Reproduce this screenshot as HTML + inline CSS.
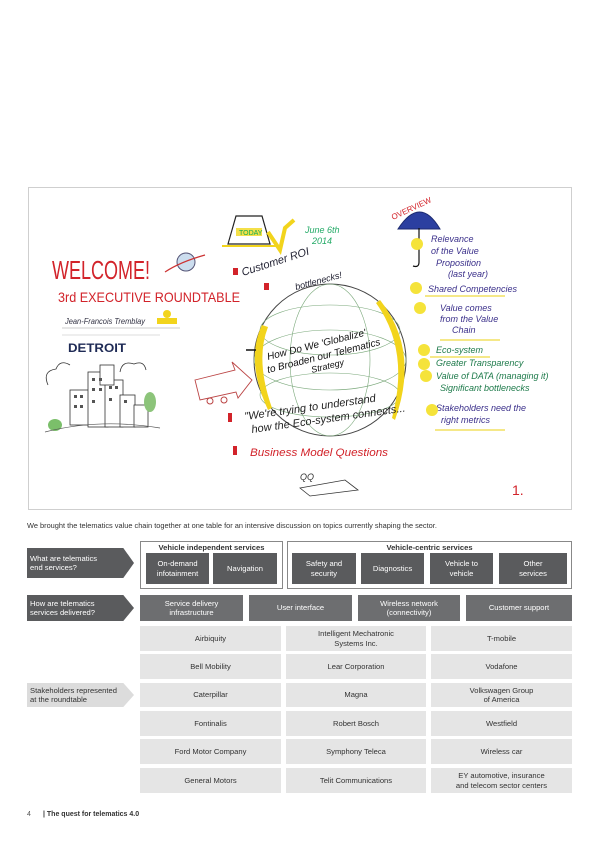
<!DOCTYPE html>
<html><head><meta charset="utf-8"><style>
*{margin:0;padding:0;box-sizing:border-box}
body{width:600px;height:848px;background:#fff;position:relative;font-family:"Liberation Sans",sans-serif;overflow:hidden}
.a{position:absolute}
.c{position:absolute;display:flex;align-items:center;justify-content:center;text-align:center;font-size:7.6px;line-height:1.25}
.d{background:#5a5b5d;color:#fff}
.m{background:#6d6e70;color:#fff}
.l{background:#e5e5e5;color:#333}
.arrow{position:absolute;display:flex;align-items:center;padding-left:3px;font-size:7.6px;line-height:1.25;clip-path:polygon(0 0,90% 0,100% 50%,90% 100%,0 100%)}
.hw{font-family:"Liberation Sans",sans-serif;font-style:italic}
</style></head><body>

<svg class="a" style="left:0;top:0" width="600" height="520" viewBox="0 0 600 520">
<rect x="28.5" y="187.5" width="543" height="322" fill="#fff" stroke="#cfcfcf" stroke-width="1"/>
<text x="52" y="279" font-size="26" fill="#d2232a" textLength="98" lengthAdjust="spacingAndGlyphs">WELCOME!</text>
<circle cx="186" cy="262" r="9" fill="#cde" stroke="#557" stroke-width="1"/>
<path d="M165 272 Q180 262 205 255" stroke="#c33" stroke-width="1.2" fill="none"/>
<text x="58" y="302" font-size="14" fill="#d2232a" textLength="182" lengthAdjust="spacingAndGlyphs">3rd EXECUTIVE ROUNDTABLE</text>
<text x="65" y="324" font-size="8" fill="#334" class="hw" textLength="80" lengthAdjust="spacingAndGlyphs">Jean-Francois Tremblay</text>
<line x1="62" y1="328" x2="180" y2="328" stroke="#999" stroke-width=".6"/>
<circle cx="167" cy="314" r="4" fill="#f2d41c"/><rect x="157" y="318" width="20" height="6" fill="#f2d41c"/>
<line x1="62" y1="335" x2="160" y2="335" stroke="#bbb" stroke-width=".6"/>
<text x="68" y="352" font-size="12" font-weight="bold" fill="#1e2a55" textLength="58" lengthAdjust="spacingAndGlyphs">DETROIT</text>
<g stroke="#333" stroke-width=".8" fill="#fff">
<path d="M48 385 q-6 -14 8 -16 q4 -10 14 -4" fill="none"/>
<path d="M120 372 q2 -12 14 -8 q10 -4 12 6" fill="none"/>
<rect x="70" y="390" width="20" height="35"/><rect x="88" y="372" width="20" height="55"/>
<rect x="105" y="380" width="18" height="47"/><rect x="100" y="365" width="14" height="20"/>
<rect x="120" y="395" width="15" height="32"/><rect x="134" y="405" width="14" height="22"/>
</g>
<g fill="#555"><rect x="74" y="395" width="3" height="3"/><rect x="80" y="395" width="3" height="3"/><rect x="92" y="378" width="3" height="3"/><rect x="99" y="378" width="3" height="3"/><rect x="92" y="388" width="3" height="3"/><rect x="99" y="388" width="3" height="3"/><rect x="109" y="386" width="3" height="3"/><rect x="115" y="386" width="3" height="3"/><rect x="74" y="405" width="3" height="3"/><rect x="80" y="405" width="3" height="3"/><rect x="124" y="400" width="3" height="3"/><rect x="92" y="400" width="3" height="3"/><rect x="109" y="398" width="3" height="3"/></g>
<ellipse cx="55" cy="425" rx="7" ry="6" fill="#7bbf6a"/><ellipse cx="150" cy="402" rx="6" ry="10" fill="#8cc47a"/>
<path d="M45 432 Q100 418 160 428" stroke="#555" stroke-width=".7" fill="none"/>
<path d="M228 244 L236 216 L262 216 L270 244 Z" fill="#fff" stroke="#222" stroke-width="1.2"/>
<rect x="236" y="228" width="26" height="8" fill="#f4e04a"/>
<text x="239" y="235" font-size="7" fill="#1a5">TODAY</text>
<line x1="222" y1="246" x2="278" y2="246" stroke="#f2d41c" stroke-width="2"/>
<path d="M268 232 L280 250 L285 228 L294 220" stroke="#f2d41c" stroke-width="4" fill="none"/>
<text x="305" y="233" font-size="9" fill="#2a6" class="hw">June 6th</text>
<text x="312" y="244" font-size="9" fill="#2a6" class="hw">2014</text>
<rect x="233" y="268" width="5" height="7" fill="#d2232a"/>
<text x="0" y="0" font-size="11" fill="#223" class="hw" transform="translate(243 276) rotate(-18)">Customer ROI</text>
<rect x="264" y="283" width="5" height="7" fill="#d2232a"/>
<text x="0" y="0" font-size="9" fill="#223" class="hw" transform="translate(296 290) rotate(-15)">bottlenecks!</text>
<circle cx="330" cy="360" r="76" fill="#fff" stroke="#444" stroke-width="1"/>
<g fill="none" stroke="#7aa87a" stroke-width=".6">
<ellipse cx="330" cy="360" rx="40" ry="76"/><ellipse cx="330" cy="360" rx="76" ry="30"/><ellipse cx="330" cy="330" rx="70" ry="25"/><ellipse cx="330" cy="395" rx="70" ry="22"/>
</g>
<path d="M262 325 Q245 360 268 410 L272 408 Q255 360 268 327 Z" fill="#f2d41c"/>
<path d="M380 300 Q420 350 395 420 L392 418 Q410 350 376 303 Z" fill="#f2d41c"/>
<text x="0" y="0" font-size="10" fill="#111" class="hw" transform="translate(268 360) rotate(-14)">How Do We 'Globalize'</text>
<text x="0" y="0" font-size="10" fill="#111" class="hw" transform="translate(268 373) rotate(-14)">to Broaden our Telematics</text>
<text x="0" y="0" font-size="9" fill="#111" class="hw" transform="translate(312 373) rotate(-14)">Strategy</text>
<line x1="246" y1="350" x2="256" y2="350" stroke="#111" stroke-width="1.5"/>
<path d="M195 380 L235 370 L232 362 L252 380 L238 398 L236 392 L200 400 Z" fill="#fff" stroke="#b44" stroke-width=".9"/>
<circle cx="210" cy="401" r="3" fill="none" stroke="#b44"/><circle cx="224" cy="400" r="3" fill="none" stroke="#b44"/>
<rect x="228" y="413" width="4" height="9" fill="#d2232a"/>
<text x="0" y="0" font-size="11" fill="#222" class="hw" transform="translate(245 420) rotate(-8)">"We're trying to understand</text>
<text x="0" y="0" font-size="11" fill="#222" class="hw" transform="translate(252 433) rotate(-8)">how the Eco-system connects...</text>
<rect x="233" y="446" width="4" height="9" fill="#d2232a"/>
<text x="250" y="456" font-size="11" fill="#d2232a" class="hw" textLength="138" lengthAdjust="spacingAndGlyphs">Business Model Questions</text>
<path d="M300 488 L345 480 L358 490 L310 496 Z" fill="#fff" stroke="#333" stroke-width=".8"/>
<text x="300" y="480" font-size="9" fill="#333" class="hw">QQ</text>
<text x="512" y="495" font-size="14" fill="#d2232a">1.</text>
<path d="M398 229 Q420 195 440 229 Z" fill="#2b3fa0" stroke="#1c2a70"/>
<path d="M419 228 L419 262 Q419 268 413 266" stroke="#111" stroke-width="1.2" fill="none"/>
<text x="0" y="0" font-size="8" fill="#d2232a" transform="translate(393 220) rotate(-25)">OVERVIEW</text>
<g font-size="9" fill="#3a2f8a">
<text x="431" y="242" class="hw">Relevance</text>
<text x="431" y="254" class="hw">of the Value</text>
<text x="436" y="266" class="hw">Proposition</text>
<text x="448" y="277" class="hw">(last year)</text>
<text x="428" y="292" class="hw">Shared Competencies</text>
<text x="440" y="311" class="hw">Value comes</text>
<text x="440" y="322" class="hw">from the Value</text>
<text x="452" y="333" class="hw">Chain</text>
</g>
<g font-size="9" fill="#1d7a4a">
<text x="436" y="353" class="hw">Eco-system</text>
<text x="436" y="366" class="hw">Greater Transparency</text>
<text x="436" y="379" class="hw">Value of DATA (managing it)</text>
<text x="440" y="391" class="hw">Significant bottlenecks</text>
</g>
<g font-size="9" fill="#3a2f8a">
<text x="436" y="411" class="hw">Stakeholders need the</text>
<text x="441" y="423" class="hw">right metrics</text>
</g>
<g stroke="#f2e060" stroke-width="1.5"><line x1="425" y1="296" x2="505" y2="296"/><line x1="440" y1="340" x2="500" y2="340"/><line x1="430" y1="357" x2="490" y2="357"/><line x1="435" y1="430" x2="505" y2="430"/></g>
<g fill="#f5e33a">
<circle cx="417" cy="244" r="6"/><circle cx="416" cy="288" r="6"/><circle cx="420" cy="308" r="6"/><circle cx="424" cy="350" r="6"/><circle cx="424" cy="364" r="6"/><circle cx="426" cy="376" r="6"/><circle cx="432" cy="410" r="6"/>
</g>
</svg>

<div class="a" style="left:27px;top:521px;font-size:7.4px;color:#333;white-space:nowrap">We brought the telematics value chain together at one table for an intensive discussion on topics currently shaping the sector.</div>

<div class="arrow d" style="left:27px;top:548px;width:107px;height:30px">What are telematics<br>end services?</div>
<div class="a" style="left:140px;top:541px;width:143px;height:48px;border:1px solid #888"></div>
<div class="c" style="left:140px;top:543px;width:143px;height:9px;font-weight:bold;color:#333">Vehicle independent services</div>
<div class="c d" style="left:146px;top:553px;width:63px;height:31px">On-demand<br>infotainment</div>
<div class="c d" style="left:213px;top:553px;width:64px;height:31px">Navigation</div>
<div class="a" style="left:287px;top:541px;width:285px;height:48px;border:1px solid #888"></div>
<div class="c" style="left:287px;top:543px;width:285px;height:9px;font-weight:bold;color:#333">Vehicle-centric services</div>
<div class="c d" style="left:292px;top:553px;width:64px;height:31px">Safety and<br>security</div>
<div class="c d" style="left:361px;top:553px;width:63px;height:31px">Diagnostics</div>
<div class="c d" style="left:430px;top:553px;width:63px;height:31px">Vehicle to<br>vehicle</div>
<div class="c d" style="left:499px;top:553px;width:68px;height:31px">Other<br>services</div>

<div class="arrow d" style="left:27px;top:595px;width:107px;height:26px">How are telematics<br>services delivered?</div>
<div class="c m" style="left:140px;top:595px;width:103px;height:26px">Service delivery<br>infrastructure</div>
<div class="c m" style="left:249px;top:595px;width:103px;height:26px">User interface</div>
<div class="c m" style="left:358px;top:595px;width:102px;height:26px">Wireless network<br>(connectivity)</div>
<div class="c m" style="left:466px;top:595px;width:106px;height:26px">Customer support</div>

<div class="arrow" style="left:27px;top:683px;width:107px;height:24px;background:#dcdcdc;color:#333">Stakeholders represented<br>at the roundtable</div>

<div class="c l" style="left:140px;top:626px;width:141px;height:25px">Airbiquity</div>
<div class="c l" style="left:286px;top:626px;width:140px;height:25px">Intelligent Mechatronic<br>Systems Inc.</div>
<div class="c l" style="left:431px;top:626px;width:141px;height:25px">T-mobile</div>

<div class="c l" style="left:140px;top:654px;width:141px;height:25px">Bell Mobility</div>
<div class="c l" style="left:286px;top:654px;width:140px;height:25px">Lear Corporation</div>
<div class="c l" style="left:431px;top:654px;width:141px;height:25px">Vodafone</div>

<div class="c l" style="left:140px;top:683px;width:141px;height:24px">Caterpillar</div>
<div class="c l" style="left:286px;top:683px;width:140px;height:24px">Magna</div>
<div class="c l" style="left:431px;top:683px;width:141px;height:24px">Volkswagen Group<br>of America</div>

<div class="c l" style="left:140px;top:711px;width:141px;height:25px">Fontinalis</div>
<div class="c l" style="left:286px;top:711px;width:140px;height:25px">Robert Bosch</div>
<div class="c l" style="left:431px;top:711px;width:141px;height:25px">Westfield</div>

<div class="c l" style="left:140px;top:739px;width:141px;height:25px">Ford Motor Company</div>
<div class="c l" style="left:286px;top:739px;width:140px;height:25px">Symphony Teleca</div>
<div class="c l" style="left:431px;top:739px;width:141px;height:25px">Wireless car</div>

<div class="c l" style="left:140px;top:768px;width:141px;height:25px">General Motors</div>
<div class="c l" style="left:286px;top:768px;width:140px;height:25px">Telit Communications</div>
<div class="c l" style="left:431px;top:768px;width:141px;height:25px">EY automotive, insurance<br>and telecom sector centers</div>

<div class="a" style="left:27px;top:811px;font-size:7px;color:#555">4</div>
<div class="a" style="left:43px;top:811px;font-size:7px;color:#333;font-weight:bold">| The quest for telematics 4.0</div>
</body></html>
